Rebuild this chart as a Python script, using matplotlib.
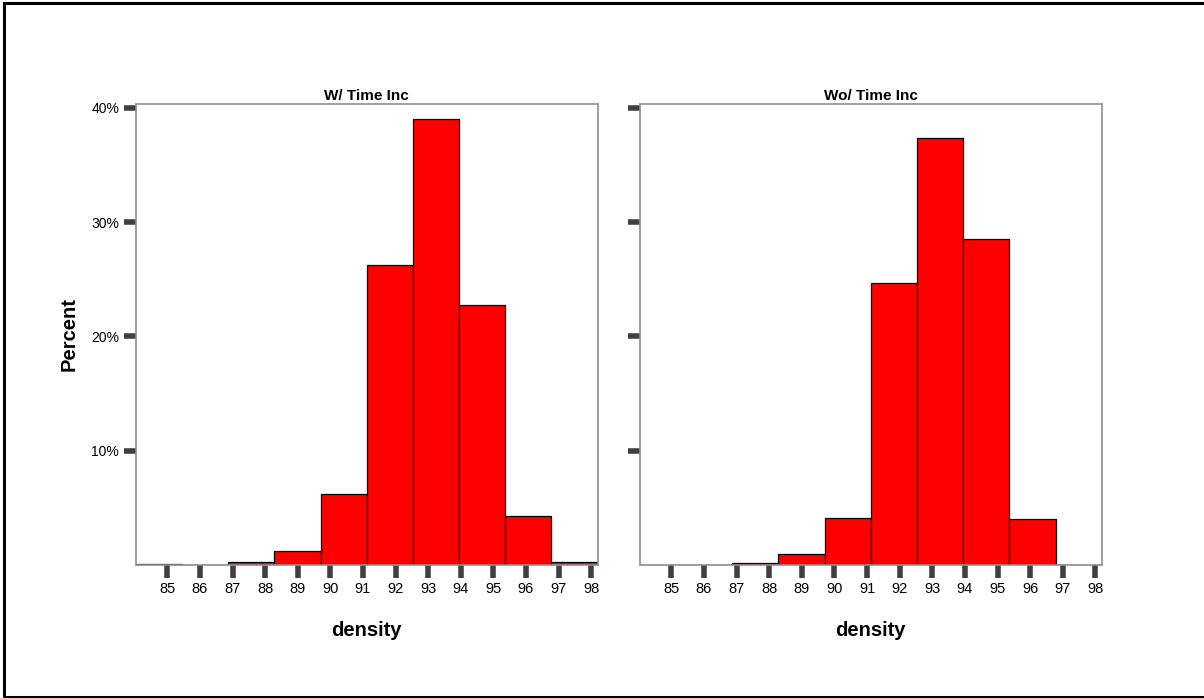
import numpy as np
import matplotlib
matplotlib.use("Agg")
import matplotlib.pyplot as plt
from matplotlib.patches import Rectangle

plt.rcParams['font.family'] = ['Liberation Sans', 'DejaVu Sans']

# histogram bins (density) shared by both panels
bin_edges = [84.03, 85.45, 86.86, 88.28, 89.70, 91.11, 92.53, 93.95, 95.36, 96.78, 98.20]
# percent per bin
with_time = [0.05, 0.0, 0.25, 1.2, 6.2, 26.3, 39.0, 22.8, 4.3, 0.25]
without_time = [0.0, 0.0, 0.2, 1.0, 4.1, 24.7, 37.4, 28.5, 4.0, 0.0]
titles = ["W/ Time Inc", "Wo/ Time Inc"]
x_ticks = list(range(85, 99))
y_ticks = [10, 20, 30, 40]
y_labels = ["10%", "20%", "30%", "40%"]

fig = plt.figure(figsize=(12.04, 6.98), dpi=100)
fig.patches.append(Rectangle((4 / 1204, 1.2 / 698), 1.2, 1 - 4.2 / 698,
                             transform=fig.transFigure, fill=False,
                             edgecolor='black', linewidth=2.2))

lefts = [135.7 / 1204, 639.7 / 1204]
widths = [462 / 1204, 462.3 / 1204]
edges = np.array(bin_edges)

for i, vals in enumerate([with_time, without_time]):
    ax = fig.add_axes([lefts[i], 1 - 565 / 698, widths[i], 461 / 698])
    ax.bar(edges[:-1], vals, width=np.diff(edges), align='edge',
           color='#ff0000', edgecolor='black', linewidth=0.9)
    ax.set_xlim(bin_edges[0], bin_edges[-1])
    ax.set_ylim(0, 40.35)
    for s in ax.spines.values():
        s.set_color('#909090')
        s.set_linewidth(1.2)
    ax.set_xticks(x_ticks)
    ax.set_xticklabels([str(t) for t in x_ticks], fontsize=10.5)
    ax.set_yticks(y_ticks)
    if i == 0:
        ax.set_yticklabels(y_labels, fontsize=10)
        ax.set_ylabel("Percent", fontsize=14.5, fontweight='bold', labelpad=9)
    else:
        ax.set_yticklabels([])
    ax.tick_params(axis='both', length=9, width=4, color='#404040', pad=3)
    ax.set_xlabel("density", fontsize=14.5, fontweight='bold', labelpad=18)
    ax.set_title(titles[i], fontsize=11, fontweight='bold', pad=3)

fig.savefig("out.png", dpi=100)
